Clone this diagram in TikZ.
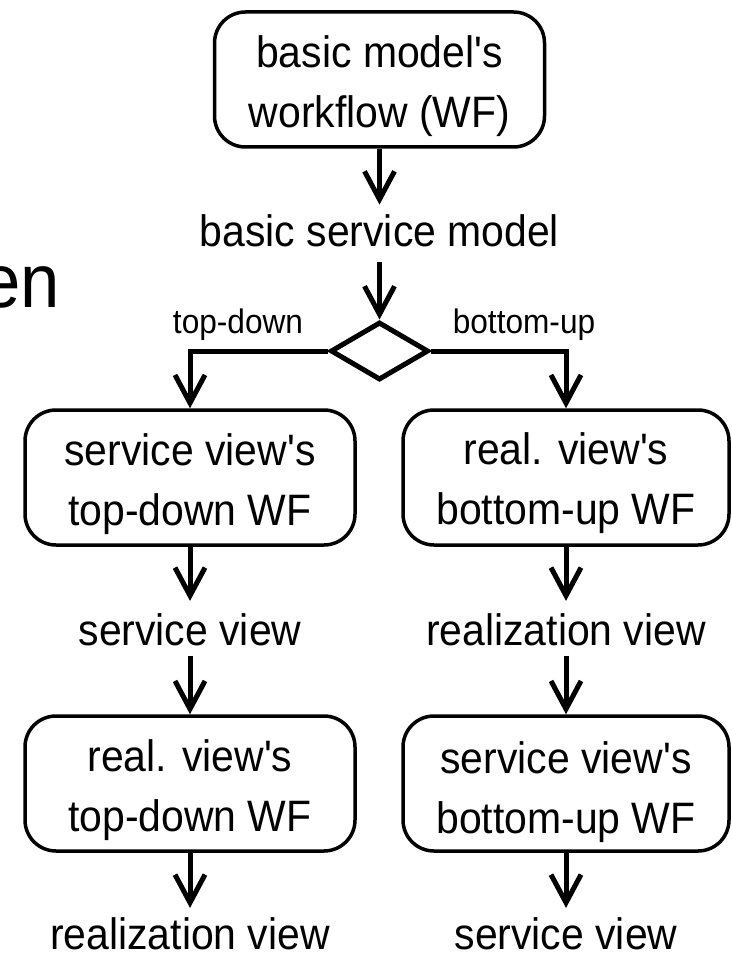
\documentclass[tikz,border=0pt]{standalone}
\usepackage{fontspec}
\newfontfamily\hv{Liberation Sans}[FakeStretch=0.93]
\usetikzlibrary{shapes.geometric,arrows.meta}
\newcommand\twolines[2]{\vtop{\baselineskip=60pt\halign{\hfil##\hfil\cr#1\cr#2\cr}}}
\begin{document}
\begin{tikzpicture}[x=1pt,y=-1pt,
  box/.style={draw, line width=3.5pt, rounded corners=31pt, minimum height=135pt, inner sep=0pt},
  txt/.style={inner sep=0pt, font=\hv\fontsize{44}{60}\selectfont, anchor=base},
  lbl/.style={inner sep=0pt, font=\hv\fontsize{34}{40}\selectfont, anchor=base},
  arr/.style={line width=5pt, -{Straight Barb[length=28pt,width=30pt]}},
  dia/.style={draw, diamond, line width=5pt, minimum width=98pt, minimum height=58pt, inner sep=0pt}]
\useasboundingbox (0,0) rectangle (731,957);
% large cut-off text
\node[anchor=base east, inner sep=0pt, font=\hv\fontsize{76}{80}\selectfont] (en) at (60,307) {en};
% top
\node[box, minimum width=330pt] (tb) at (379.5,79.5) {};
\node[txt] (tbt) at (379.5,67.5) {\twolines{basic model's}{workflow (WF)}};
\node[txt] (bsm) at (379.5,246.7) {basic service model};
\node[dia] (dia) at (379.5,351) {};
\node[lbl] (td) at (238,333) {top-down};
\node[lbl] (bu) at (524,333) {bottom-up};
% left column
\node[box, minimum width=330pt] (lb1) at (190,477.5) {};
\node[txt] (lb1t) at (190,465) {\twolines{service view's}{top-down WF}};
\node[txt] (sv1) at (190,645) {service view};
\node[box, minimum width=330pt] (lb2) at (190,783.5) {};
\node[txt] (lb2t) at (190,771.5) {\twolines{real. view's}{top-down WF}};
\node[txt] (rv1) at (190,949) {realization view};
% right column
\node[box, minimum width=326pt] (rb1) at (566,477.5) {};
\node[txt] (rb1t) at (566,464) {\twolines{real. view's}{bottom-up WF}};
\node[txt] (rv2) at (566,645) {realization view};
\node[box, minimum width=326pt] (rb2) at (566,783.5) {};
\node[txt] (rb2t) at (566,773) {\twolines{service view's}{bottom-up WF}};
\node[txt] (sv2) at (566,949) {service view};
% connectors
\draw[arr] (tb.south) -- ([yshift=10pt]bsm.north);
\draw[arr] ([yshift=-15pt]bsm.south) -- (dia.north);
\draw[arr] (dia.west) -| (lb1.north);
\draw[arr] (dia.east) -| (rb1.north);
\draw[arr] (lb1.south) -- ([yshift=12pt]sv1.north);
\draw[arr] ([yshift=-10pt]sv1.south) -- (lb2.north);
\draw[arr] (lb2.south) -- ([yshift=9pt]rv1.north);
\draw[arr] (rb1.south) -- ([yshift=12pt]rv2.north);
\draw[arr] ([yshift=-10pt]rv2.south) -- (rb2.north);
\draw[arr] (rb2.south) -- ([yshift=9pt]sv2.north);
\end{tikzpicture}
\end{document}
